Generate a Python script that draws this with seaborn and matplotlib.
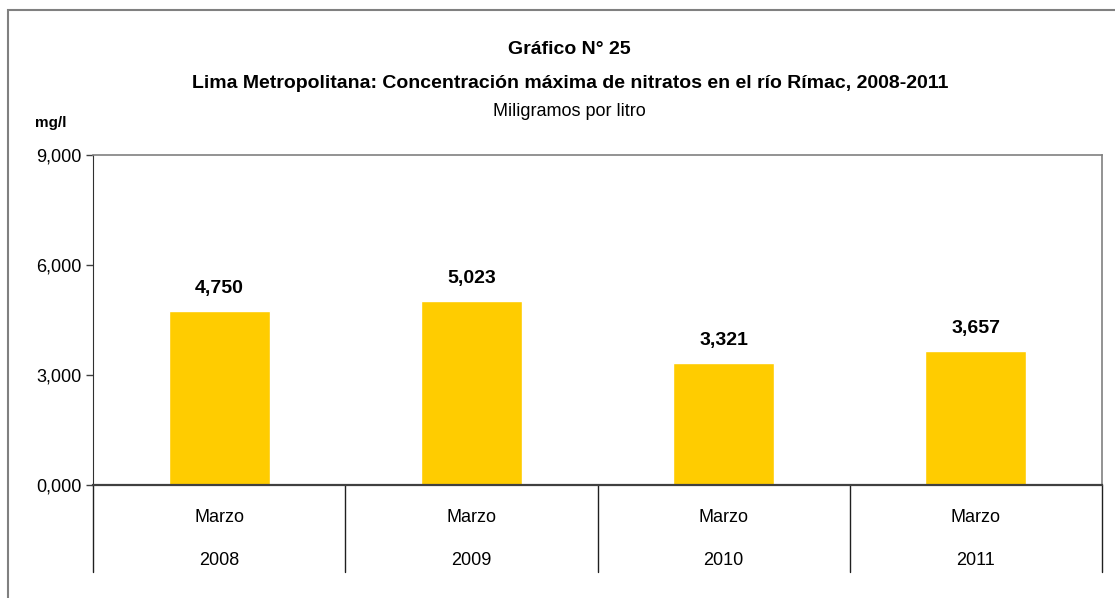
import matplotlib
matplotlib.use("Agg")
import matplotlib.pyplot as plt
import matplotlib.ticker as mticker
import matplotlib.transforms as mtransforms
from matplotlib.patches import Rectangle
import seaborn as sns
import pandas as pd

# ---------------- Data ----------------
meses = ["Marzo", "Marzo", "Marzo", "Marzo"]
anios = ["2008", "2009", "2010", "2011"]
nitratos = [4.750, 5.023, 3.321, 3.657]
y_ticks = [0, 3, 6, 9]

df = pd.DataFrame({"anio": anios, "mes": meses, "valor": nitratos})

sns.set_style("white")
plt.rcParams["font.family"] = ["Liberation Sans Narrow", "Liberation Sans", "DejaVu Sans"]
plt.rcParams["text.color"] = "black"
plt.rcParams["ytick.color"] = "black"

fig = plt.figure(figsize=(11.15, 5.98), dpi=100)
ax = fig.add_axes([93 / 1115, 113 / 598, (1102 - 93) / 1115, 330 / 598])

sns.barplot(data=df, x="anio", y="valor", color="#FFCC00", width=0.4,
            saturation=1, ax=ax)

def coma(v, pos=None):
    return f"{v:.3f}".replace(".", ",")

ax.set_ylim(0, 9)
ax.set_xlim(-0.5, len(anios) - 0.5)
ax.set_yticks(y_ticks)
ax.yaxis.set_major_formatter(mticker.FuncFormatter(coma))
ax.tick_params(axis="y", length=5, width=1, color="#404040", labelsize=13, pad=3,
               left=True, direction="out", labelcolor="black")
ax.set_xticks([])
ax.set_xlabel("")
ax.set_ylabel("")

for side in ["top", "right"]:
    ax.spines[side].set_color("#808080")
    ax.spines[side].set_linewidth(1.2)
ax.spines["left"].set_color("#303030")
ax.spines["bottom"].set_color("#404040")
ax.spines["bottom"].set_linewidth(1.6)

# value labels
for i, v in enumerate(nitratos):
    ax.annotate(coma(v), (i, v), xytext=(0, 10), textcoords="offset points",
                ha="center", va="bottom", fontsize=14, fontweight="bold")

# two-level category axis
trans = mtransforms.blended_transform_factory(ax.transData, ax.transAxes)
for i in range(len(anios)):
    ax.text(i, -0.10, meses[i], transform=trans, ha="center", va="center", fontsize=13)
    ax.text(i, -0.228, anios[i], transform=trans, ha="center", va="center", fontsize=13)
for k in range(len(anios) + 1):
    ax.plot([k - 0.5, k - 0.5], [0, -0.264], transform=trans, color="#202020",
            lw=1, clip_on=False)

# titles
fig.text(0.511, 1 - 49 / 598, "Gráfico N° 25", ha="center", va="center",
         fontsize=14, fontweight="bold")
fig.text(0.511, 1 - 84 / 598,
         "Lima Metropolitana: Concentración máxima de nitratos en el río Rímac, 2008-2011",
         ha="center", va="center", fontsize=14, fontweight="bold")
fig.text(0.511, 1 - 111 / 598, "Miligramos por litro", ha="center", va="center", fontsize=13)
fig.text(51 / 1115, 1 - 123 / 598, "mg/l", ha="center", va="center", fontsize=11,
         fontweight="bold")

# outer frame (right and bottom edges fall outside the image)
fig.patches.append(Rectangle((8 / 1115, -0.1), 1.2, 1 - 10 / 598 + 0.1,
                             transform=fig.transFigure, fill=False,
                             edgecolor="#808080", lw=1.5))

fig.savefig("out.png", dpi=100)
